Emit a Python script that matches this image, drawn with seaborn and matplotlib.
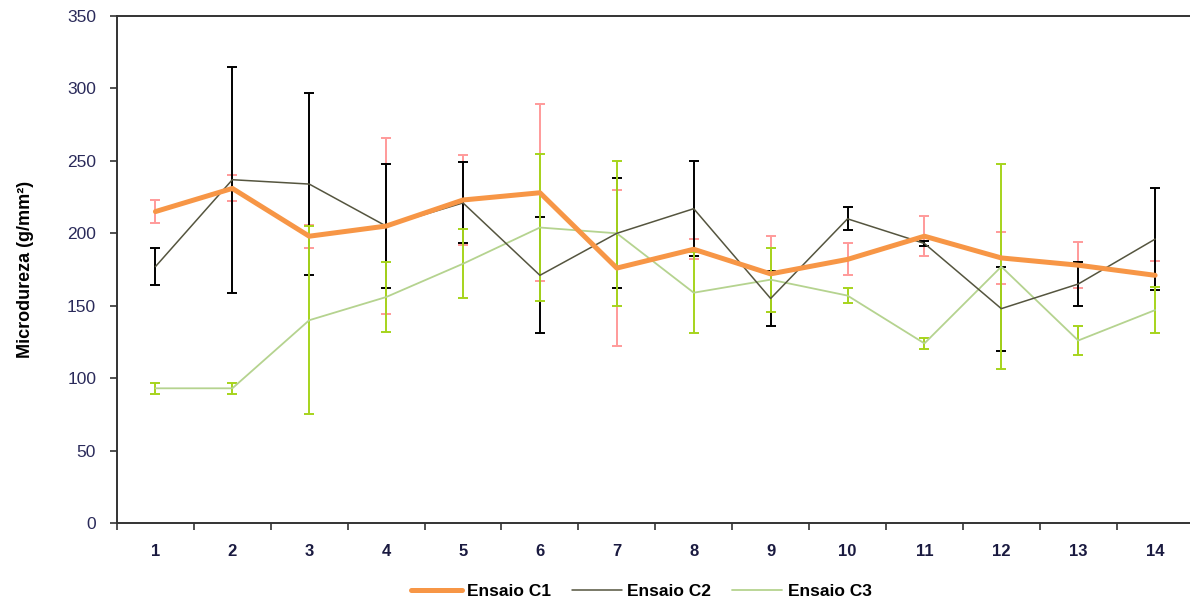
import numpy as np
import pandas as pd
import matplotlib
matplotlib.use("Agg")
import matplotlib.pyplot as plt
import seaborn as sns

# Ponto de amostragem
pontos = list(range(1, 15))

# Microdureza média (g/mm²) por ensaio
c1_media = [215, 231, 198, 205, 223, 228, 176, 189, 172, 182, 198, 183, 178, 171]
c2_media = [177, 237, 234, 205, 221, 171, 200, 217, 155, 210, 193, 148, 165, 196]
c3_media = [93, 93, 140, 156, 179, 204, 200, 159, 168, 157, 124, 177, 126, 147]

# Desvio padrão de cada média
c1_desvio = [8, 9, 8, 61, 31, 61, 54, 7, 26, 11, 14, 18, 16, 10]
c2_desvio = [13, 78, 63, 43, 28, 40, 38, 33, 19, 8, 1.5, 29, 15, 35]
c3_desvio = [4, 4, 65, 24, 24, 51, 50, 28, 22, 5, 4, 71, 10, 16]

series = ["Ensaio C1", "Ensaio C2", "Ensaio C3"]
medias = [c1_media, c2_media, c3_media]
desvios = [c1_desvio, c2_desvio, c3_desvio]

cor_linha = {"Ensaio C1": "#F79646", "Ensaio C2": "#55553F", "Ensaio C3": "#B5D38F"}
larg_linha = {"Ensaio C1": 3.6, "Ensaio C2": 1.1, "Ensaio C3": 1.3}
cor_barra = {"Ensaio C1": "#FF9A9A", "Ensaio C2": "#000000", "Ensaio C3": "#A6D41C"}

df = pd.DataFrame({
    "Ponto": np.tile(pontos, 3),
    "Microdureza": np.concatenate(medias),
    "Desvio": np.concatenate(desvios),
    "Ensaio": np.repeat(series, len(pontos)),
})

sns.set_theme(style="white")
plt.rcParams["font.family"] = ["Liberation Sans", "DejaVu Sans"]

fig = plt.figure(figsize=(11.9, 6.05), dpi=100)
ax = fig.add_axes([0.0983, 0.1355, 0.9047, 0.838])

# Barras de erro (desvio padrão)
for nome in series:
    sub = df[df["Ensaio"] == nome]
    ax.errorbar(sub["Ponto"], sub["Microdureza"], yerr=sub["Desvio"],
                fmt="none", ecolor=cor_barra[nome], elinewidth=1.4,
                capsize=3.4, capthick=1.4, zorder=2)

# Linhas das médias
for nome in ["Ensaio C3", "Ensaio C2", "Ensaio C1"]:
    sub = df[df["Ensaio"] == nome]
    sns.lineplot(data=sub, x="Ponto", y="Microdureza", ax=ax,
                 color=cor_linha[nome], linewidth=larg_linha[nome],
                 label=nome, zorder=3 if nome != "Ensaio C1" else 4)

ax.set_xlim(0.5, 14.5)
ax.set_ylim(0, 350)
ax.set_yticks(np.arange(0, 351, 50))

# Marcas nas divisões entre pontos, rótulos no centro
ax.set_xticks(np.arange(0.5, 14.6, 1))
ax.set_xticklabels([])
ax.set_xticks(pontos, minor=True)
ax.set_xticklabels([str(p) for p in pontos], minor=True,
                   fontsize=12, fontweight="bold", color="#1a1a40")
ax.tick_params(axis="x", which="major", direction="out", length=5,
               width=1.2, color="#333333", bottom=True)
ax.tick_params(axis="x", which="minor", length=0, pad=15)
ax.tick_params(axis="y", direction="out", length=5, width=1.2,
               color="#333333", left=True, labelsize=12.5,
               labelcolor="#2a2a5a", pad=10)

for lado in ["left", "bottom", "top"]:
    ax.spines[lado].set_visible(True)
    ax.spines[lado].set_color("#333333")
    ax.spines[lado].set_linewidth(1.4)
ax.spines["right"].set_visible(False)

ax.set_xlabel("")
ax.set_ylabel("Microdureza (g/mm²)", fontsize=13, fontweight="bold",
              color="black", labelpad=24)

handles, labels = ax.get_legend_handles_labels()
ordem = [labels.index(n) for n in series]
leg = ax.legend([handles[i] for i in ordem], [labels[i] for i in ordem],
                loc="center", bbox_to_anchor=(0.487, -0.135), ncol=3,
                frameon=False, handlelength=2.9, handletextpad=0.3,
                columnspacing=1.2,
                prop={"weight": "bold", "size": 12.5})
for t in leg.get_texts():
    t.set_color("black")

fig.savefig("out.png", dpi=100)
